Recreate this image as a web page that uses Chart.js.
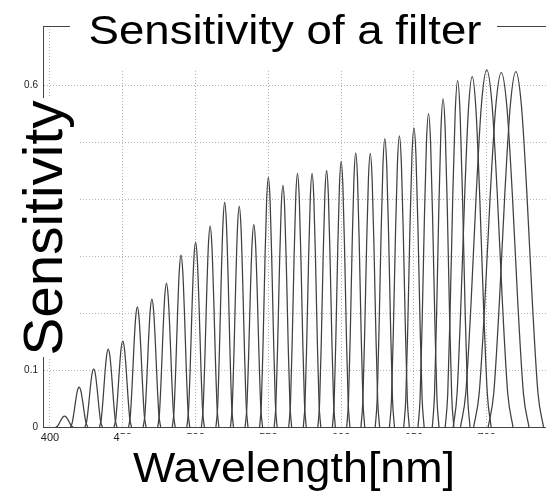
<!DOCTYPE html>
<html>
<head>
<meta charset="utf-8">
<script src="https://cdn.jsdelivr.net/npm/chart.js@4.4.1/dist/chart.umd.min.js"></script>
<style>
  html, body { margin: 0; padding: 0; background: #fff; }
  #wrap { width: 546px; height: 495px; }
</style>
</head>
<body>
<div id="wrap"><canvas id="filterChart" width="546" height="495"></canvas></div>
<script>
// peak wavelength of each filter [nm]
const filterCenters = [410, 420, 430, 440, 450, 460, 470, 480, 490, 500, 510, 520, 530, 540, 550, 560,
                       570, 580, 590, 600, 610, 620, 630, 640, 650, 660, 670, 680, 690, 700, 710, 720];
// peak sensitivity of each filter
const filterPeaks = [0.019, 0.070, 0.102, 0.137, 0.151, 0.211, 0.225, 0.253, 0.302, 0.325, 0.353, 0.395, 0.388, 0.356, 0.439, 0.425,
                     0.446, 0.446, 0.451, 0.467, 0.482, 0.481, 0.507, 0.512, 0.526, 0.551, 0.577, 0.609, 0.616, 0.628, 0.623, 0.625];
// half of the foot width of each filter [nm] (estimated, the last ones are much wider)
const filterWidths = [6.0, 6.0, 6.0, 6.0, 6.0, 6.0, 6.0, 6.0, 6.0, 6.0, 6.0, 6.0, 6.0, 6.0, 6.0, 6.0,
                      6.0, 6.0, 6.0, 6.0, 6.2, 6.4, 6.6, 6.8, 7.0, 7.2, 7.4, 8.5, 13.0, 18.0, 19.0, 19.0];
// outline of one filter: offset from its peak (in foot widths) and fraction of the peak
const shapeOffsets = [-1, -0.8, -0.6, -0.4, -0.2, 0, 0.2, 0.4, 0.6, 0.8, 1];
const shapeLevels  = [0, 0.095, 0.345, 0.655, 0.905, 1, 0.905, 0.655, 0.345, 0.095, 0];

const xTicks = [400, 450, 500, 550, 600, 650, 700];
const yTicks = [0, 0.1, 0.2, 0.3, 0.4, 0.5, 0.6];

const chartTitle = 'Sensitivity of a filter';
const xLabel = 'Wavelength[nm]';
const yLabel = 'Sensitivity';

const labelFont = '"Liberation Sans", Arial, Helvetica, sans-serif';

const datasets = filterCenters.map((c, i) => ({
    label: c + ' nm',
    data: shapeOffsets.map((o, k) => ({ x: c + o * filterWidths[i], y: filterPeaks[i] * shapeLevels[k] })),
    borderColor: '#404040',
    borderWidth: 1.25,
    pointRadius: 0,
    fill: false,
    cubicInterpolationMode: 'monotone'
}));

// draws text squeezed/stretched to a given width
function stretchedText(ctx, text, cx, base, size, width, rotated) {
    ctx.save();
    ctx.translate(cx, base);
    if (rotated) ctx.rotate(-Math.PI / 2);
    ctx.font = size + 'px ' + labelFont;
    const w = ctx.measureText(text).width;
    ctx.scale(width / w, 1);
    ctx.fillStyle = '#000';
    ctx.textAlign = 'center';
    ctx.textBaseline = 'alphabetic';
    ctx.fillText(text, 0, 0);
    ctx.restore();
}

const labelsPlugin = {
    id: 'labelsPlugin',
    afterDraw(chart) {
        const { ctx, chartArea: a } = chart;
        ctx.save();
        // top edge of the axes box
        ctx.strokeStyle = '#444';
        ctx.lineWidth = 1;
        ctx.beginPath();
        ctx.moveTo(a.left, Math.round(a.top) + 0.5);
        ctx.lineTo(a.right, Math.round(a.top) + 0.5);
        ctx.stroke();
        // white backgrounds of the big labels
        ctx.fillStyle = '#fff';
        ctx.fillRect(70, 0, 427, 69);
        ctx.fillRect(0, 98, 80, 259);
        ctx.fillRect(120, 434, 380, 61);
        ctx.restore();

        stretchedText(ctx, chartTitle, 285, 44, 41, 393, false);
        stretchedText(ctx, yLabel, 62, 228, 56, 255, true);
        stretchedText(ctx, xLabel, 294, 482, 42, 322, false);
    }
};

new Chart(document.getElementById('filterChart'), {
    type: 'line',
    data: { datasets },
    options: {
        responsive: false,
        animation: false,
        events: [],
        layout: { padding: { top: 26, right: 0, left: 0, bottom: 0 } },
        plugins: {
            legend: { display: false },
            tooltip: { enabled: false },
            title: { display: false }
        },
        scales: {
            x: {
                type: 'linear',
                min: 395.2,
                max: 740.7,
                afterBuildTicks: s => { s.ticks = xTicks.map(v => ({ value: v })); },
                afterFit: s => { s.height = 68; },
                grid: { color: '#b4b4b4', lineWidth: 1, drawTicks: false },
                border: { display: true, color: '#444', width: 1, dash: [1, 2] },
                ticks: {
                    padding: 4,
                    maxRotation: 0,
                    autoSkip: false,
                    color: '#222',
                    font: { family: labelFont, size: 11 }
                }
            },
            y: {
                min: 0,
                max: 0.705,
                afterBuildTicks: s => { s.ticks = yTicks.map(v => ({ value: v })); },
                afterFit: s => { s.width = 43; },
                grid: { color: '#b4b4b4', lineWidth: 1, drawTicks: false },
                border: { display: true, color: '#444', width: 1, dash: [1, 2] },
                ticks: {
                    padding: 5,
                    color: '#222',
                    font: { family: labelFont, size: 10 },
                    callback: v => String(Math.round(v * 10) / 10)
                }
            }
        }
    },
    plugins: [labelsPlugin]
});
</script>
</body>
</html>
